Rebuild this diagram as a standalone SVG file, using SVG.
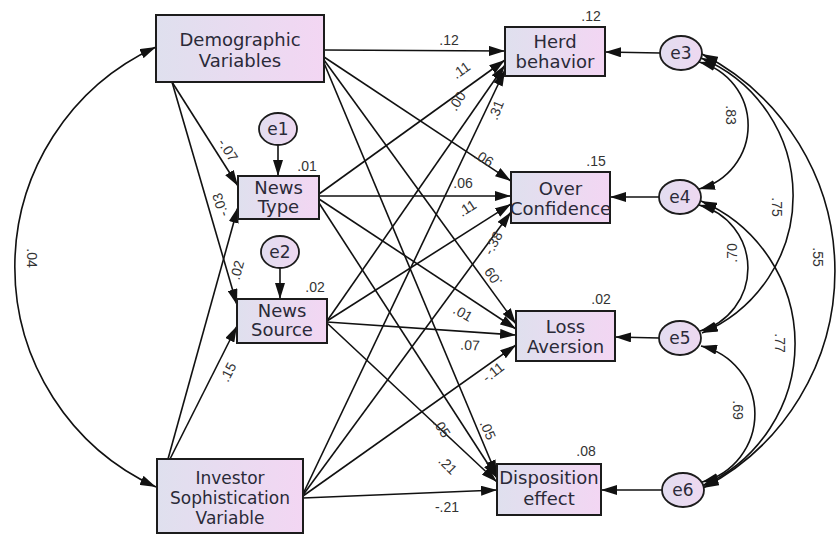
<svg xmlns="http://www.w3.org/2000/svg" width="836" height="535" viewBox="0 0 836 535">
<defs>
<linearGradient id="bg" x1="0" y1="0" x2="1" y2="0">
<stop offset="0" stop-color="#dfe0ee"/>
<stop offset="1" stop-color="#f3d6f3"/>
</linearGradient>
<linearGradient id="cg" x1="0" y1="0" x2="1" y2="0">
<stop offset="0" stop-color="#e2ddf0"/>
<stop offset="1" stop-color="#eed8f0"/>
</linearGradient>
<marker id="ah" viewBox="0 0 16 10" refX="16" refY="5" markerWidth="16" markerHeight="10" markerUnits="userSpaceOnUse" orient="auto-start-reverse">
<path d="M0,0 L16,5 L0,10 z" fill="#111"/>
</marker>
<style>
.box{fill:url(#bg);stroke:#1c1c1c;stroke-width:2}
.err{fill:url(#cg);stroke:#1c1c1c;stroke-width:1.8}
.lbl{font-family:"DejaVu Sans","Liberation Sans",sans-serif;font-size:18px;fill:#2a2a38;text-anchor:middle}
.sm{font-size:17px}
.el{font-family:"DejaVu Sans","Liberation Sans",sans-serif;font-size:17px;fill:#2a2a38;text-anchor:middle}
.num{font-family:"Liberation Sans",Arial,sans-serif;font-size:14px;fill:#333;text-anchor:middle;dominant-baseline:central}
.p{stroke:#111;stroke-width:1.6;fill:none;marker-end:url(#ah)}
.c{stroke:#111;stroke-width:1.6;fill:none;marker-start:url(#ah);marker-end:url(#ah)}
</style>
</defs>
<rect width="836" height="535" fill="#fff"/>

<g id="connectors">
<!-- covariances -->
<path class="c" d="M156,47 A242,242 0 0 0 156,487"/>
<path class="c" d="M699,62 A65.6,65.6 0 0 1 699,189"/>
<path class="c" d="M699,205 A65.2,65.2 0 0 1 700,331"/>
<path class="c" d="M701,346 A70,70 0 0 1 702,482"/>
<path class="c" d="M701,58 A149,149 0 0 1 702,333"/>
<path class="c" d="M701,201 A155.3,155.3 0 0 1 702,486"/>
<path class="c" d="M702,54 A244,244 0 0 1 703,488"/>
<!-- errors -->
<path class="p" d="M278,145 L278,176"/>
<path class="p" d="M280,268 L280,299"/>
<path class="p" d="M660,53 L605,52"/>
<path class="p" d="M659,197 L610,197"/>
<path class="p" d="M659,338 L615,337"/>
<path class="p" d="M662,490 L601,490"/>
<!-- demographic -->
<path class="p" d="M324,50 L505,51"/>
<path class="p" d="M324,57 L511,181"/>
<path class="p" d="M324,60 L516,324"/>
<path class="p" d="M324,63 L497,476"/>
<path class="p" d="M172,82 L238,186"/>
<path class="p" d="M172,82 L237,305"/>
<!-- investor -->
<path class="p" d="M168,459 L238,207"/>
<path class="p" d="M170,459 L237,326"/>
<path class="p" d="M303,494 L505,70"/>
<path class="p" d="M303,495 L511,212"/>
<path class="p" d="M303,496 L516,345"/>
<path class="p" d="M303,498 L497,490"/>
<!-- news type -->
<path class="p" d="M319,194 L505,60"/>
<path class="p" d="M319,196 L511,196"/>
<path class="p" d="M319,199 L516,329"/>
<path class="p" d="M319,203 L497,478"/>
<!-- news source -->
<path class="p" d="M327,321 L505,65"/>
<path class="p" d="M327,321 L511,204"/>
<path class="p" d="M327,322 L516,335"/>
<path class="p" d="M327,323 L497,482"/>
</g>

<g id="edge-labels">
<text class="num" x="449" y="40">.12</text>
<text class="num" x="461" y="70" transform="rotate(-35 461 70)">.11</text>
<text class="num" x="457" y="101" transform="rotate(-57 457 101)">.00</text>
<text class="num" x="496" y="110" transform="rotate(-68 496 110)">.31</text>
<text class="num" x="484" y="158" transform="rotate(33 484 158)">.06</text>
<text class="num" x="463" y="183">.06</text>
<text class="num" x="467" y="208" transform="rotate(-33 467 208)">.11</text>
<text class="num" x="493" y="243" transform="rotate(-62 493 243)">-.38</text>
<text class="num" x="493" y="277" transform="rotate(235 493 277)">.09</text>
<text class="num" x="463" y="313" transform="rotate(30 463 313)">.01</text>
<text class="num" x="470" y="345" transform="rotate(3 470 345)">.07</text>
<text class="num" x="493" y="372" transform="rotate(-38 493 372)">-.11</text>
<text class="num" x="442" y="428" transform="rotate(57 442 428)">.05</text>
<text class="num" x="488" y="430" transform="rotate(67 488 430)">.05</text>
<text class="num" x="448" y="465" transform="rotate(45 448 465)">.21</text>
<text class="num" x="447" y="507">-.21</text>
<text class="num" x="228" y="150" transform="rotate(57 228 150)">-.07</text>
<text class="num" x="220" y="205" transform="rotate(-107 220 205)">-.03</text>
<text class="num" x="237" y="270" transform="rotate(-75 237 270)">.02</text>
<text class="num" x="228" y="372" transform="rotate(-63 228 372)">.15</text>
<text class="num" x="32" y="258" transform="rotate(90 32 258)">.04</text>
<text class="num" x="731" y="115" transform="rotate(90 731 115)">.83</text>
<text class="num" x="777" y="207" transform="rotate(90 777 207)">.75</text>
<text class="num" x="818" y="257" transform="rotate(90 818 257)">.55</text>
<text class="num" x="732" y="253" transform="rotate(-90 732 253)">.70</text>
<text class="num" x="780" y="343" transform="rotate(90 780 343)">.77</text>
<text class="num" x="738" y="410" transform="rotate(90 738 410)">.69</text>
</g>

<g id="n-demographic">
<rect class="box" x="156" y="15" width="168" height="67"/>
<text class="lbl" x="240" y="46">Demographic</text>
<text class="lbl" x="240" y="67">Variables</text>
</g>
<g id="n-investor">
<rect class="box" x="157" y="459" width="146" height="74"/>
<text class="lbl sm" x="230" y="484">Investor</text>
<text class="lbl sm" x="230" y="504">Sophistication</text>
<text class="lbl sm" x="230" y="524">Variable</text>
</g>
<g id="n-newstype">
<rect class="box" x="238" y="176" width="81" height="43"/>
<text class="lbl" x="278.5" y="194">News</text>
<text class="lbl" x="278.5" y="213">Type</text>
<text class="num" x="307" y="166">.01</text>
</g>
<g id="n-newssource">
<rect class="box" x="237" y="299" width="90" height="44"/>
<text class="lbl" x="282" y="317">News</text>
<text class="lbl" x="282" y="336">Source</text>
<text class="num" x="315" y="287">.02</text>
</g>
<g id="n-herd">
<rect class="box" x="505" y="27" width="100" height="49"/>
<text class="lbl" x="555" y="48">Herd</text>
<text class="lbl" x="555" y="68">behavior</text>
<text class="num" x="591" y="16">.12</text>
</g>
<g id="n-over">
<rect class="box" x="511" y="172" width="99" height="51"/>
<text class="lbl" x="560.5" y="195">Over</text>
<text class="lbl" x="560.5" y="215">Confidence</text>
<text class="num" x="596" y="161">.15</text>
</g>
<g id="n-loss">
<rect class="box" x="516" y="311" width="99" height="50"/>
<text class="lbl" x="565.5" y="333">Loss</text>
<text class="lbl" x="565.5" y="353">Aversion</text>
<text class="num" x="601" y="299">.02</text>
</g>
<g id="n-disposition">
<rect class="box" x="497" y="464" width="104" height="51"/>
<text class="lbl" x="549" y="484">Disposition</text>
<text class="lbl" x="549" y="505">effect</text>
<text class="num" x="586" y="451">.08</text>
</g>
<g id="n-e1"><ellipse class="err" cx="278" cy="129" rx="19" ry="16"/><text class="el" x="278" y="135">e1</text></g>
<g id="n-e2"><ellipse class="err" cx="280" cy="252" rx="19" ry="16"/><text class="el" x="280" y="258">e2</text></g>
<g id="n-e3"><ellipse class="err" cx="681" cy="53" rx="21" ry="17"/><text class="el" x="681" y="59">e3</text></g>
<g id="n-e4"><ellipse class="err" cx="680" cy="197" rx="21" ry="17"/><text class="el" x="680" y="203">e4</text></g>
<g id="n-e5"><ellipse class="err" cx="680" cy="338" rx="21" ry="17"/><text class="el" x="680" y="344">e5</text></g>
<g id="n-e6"><ellipse class="err" cx="683" cy="490" rx="21" ry="17"/><text class="el" x="683" y="496">e6</text></g>
</svg>
